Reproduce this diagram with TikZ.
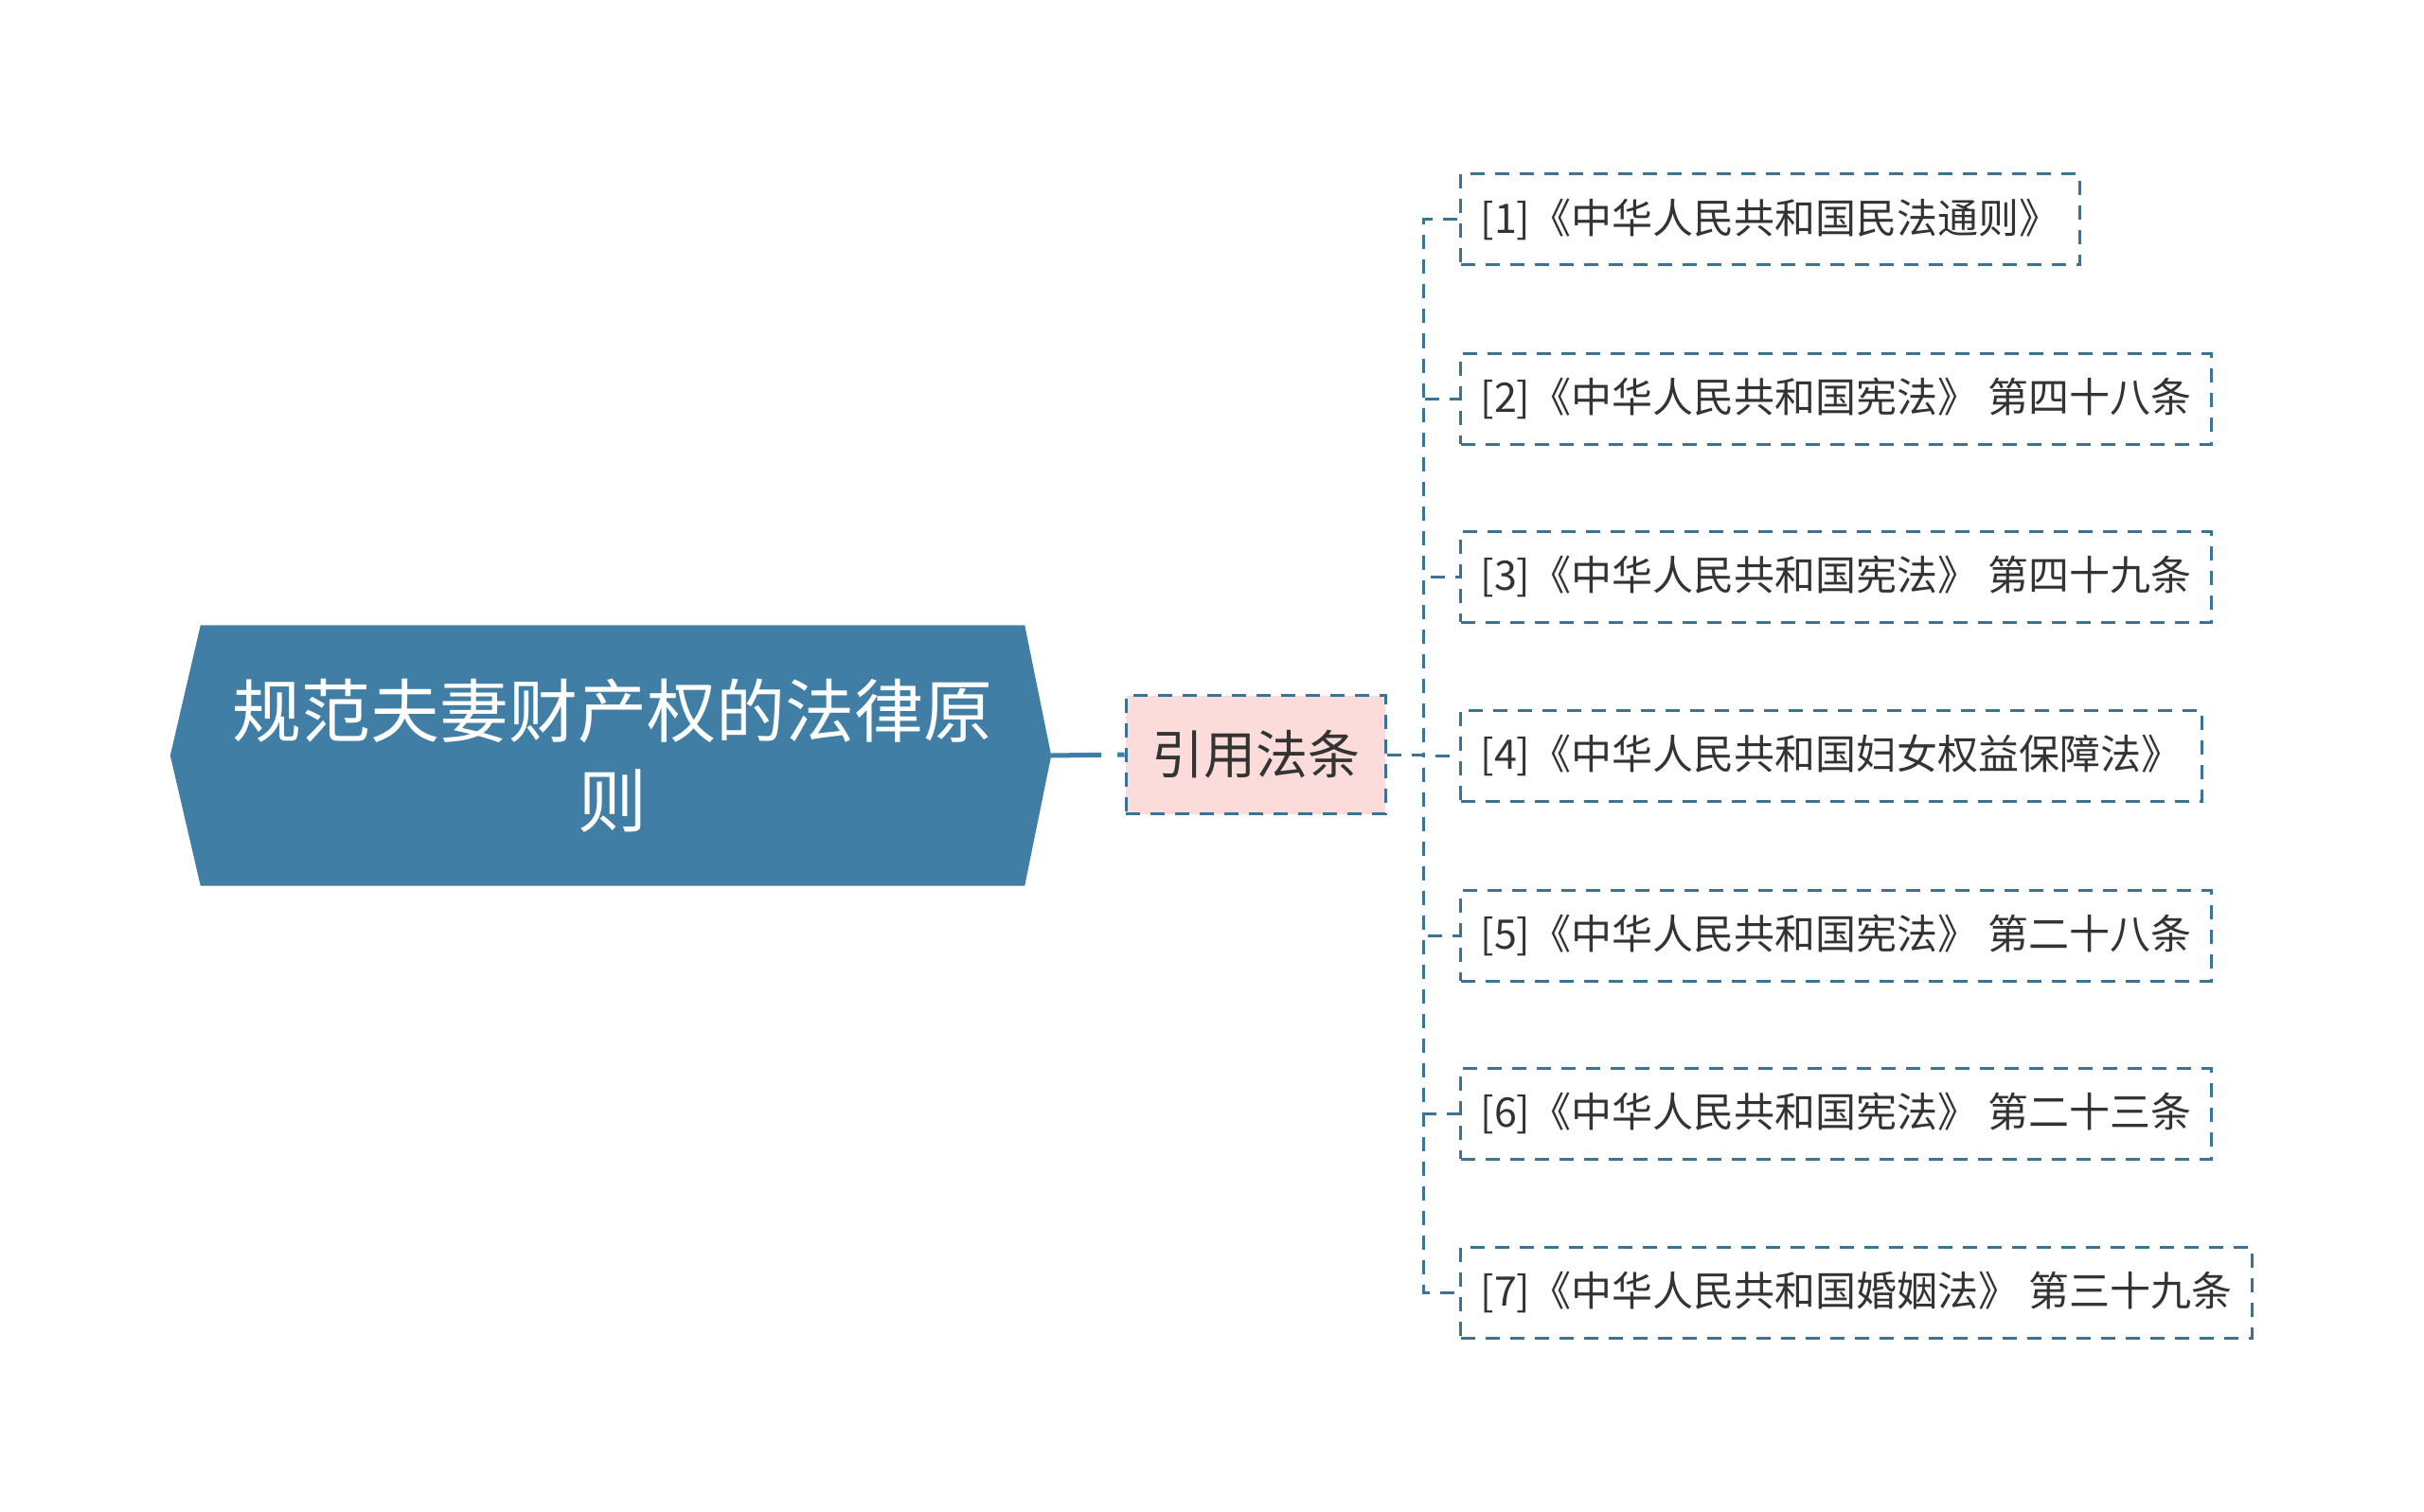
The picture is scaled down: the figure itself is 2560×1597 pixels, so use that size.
\documentclass[tikz,border=0pt]{standalone}
\usepackage{fontspec}
\setmainfont{Noto Sans CJK SC}
\usetikzlibrary{calc}
\pgfdeclarelayer{background}
\pgfsetlayers{background,main}
\definecolor{mainblue}{RGB}{64,126,165}
\definecolor{dashblue}{RGB}{58,115,150}
\definecolor{pinkfill}{RGB}{251,220,219}
\definecolor{txt}{RGB}{51,51,51}
\begin{document}
\begin{tikzpicture}[x=1pt,y=-1pt,
  rootnode/.style={inner sep=0pt, text=white, align=center,
    font=\fontsize{73}{95}\selectfont, minimum width=870pt, minimum height=275pt},
  midnode/.style={draw=dashblue, fill=pinkfill, line width=3pt, dash pattern=on 15pt off 11pt,
    text=txt, font=\fontsize{55}{60}\selectfont, minimum width=274pt, minimum height=125pt},
  leafbox/.style={draw=dashblue, line width=3pt, dash pattern=on 15pt off 11pt,
    text=txt, font=\fontsize{43}{50}\selectfont, minimum height=96pt,
    inner xsep=21pt, anchor=west},
  dashedge/.style={draw=dashblue, line width=3pt, dash pattern=on 15pt off 11pt}]
\useasboundingbox (0,0) rectangle (2560,1597);

\node[rootnode] (main) at (647,798) {规范夫妻财产权的法律原\\则};
\coordinate (mainTip) at ($(main.east)+(28,0)$);
\begin{pgfonlayer}{background}
\fill[mainblue] ($(main.west)+(-32,0)$) -- (main.north west) -- (main.north east)
  -- (mainTip) -- (main.south east) -- (main.south west) -- cycle;
\end{pgfonlayer}

\node[midnode] (yy) at (1326,797) {引用法条};

\draw[mainblue, line width=5pt, dash pattern=on 53pt off 17pt on 20pt] (mainTip) -- (yy.west);

\coordinate (sp) at (1503,797);

\node[leafbox] (c1) at (1541,232)  {[1]《中华人民共和国民法通则》};
\node[leafbox] (c2) at (1541,421)  {[2]《中华人民共和国宪法》 第四十八条};
\node[leafbox] (c3) at (1541,609)  {[3]《中华人民共和国宪法》 第四十九条};
\node[leafbox] (c4) at (1541,798)  {[4]《中华人民共和国妇女权益保障法》};
\node[leafbox] (c5) at (1541,988)  {[5]《中华人民共和国宪法》 第二十八条};
\node[leafbox] (c6) at (1541,1176) {[6]《中华人民共和国宪法》 第二十三条};
\node[leafbox] (c7) at (1541,1365) {[7]《中华人民共和国婚姻法》 第三十九条};

\foreach \c in {c1,c2,c3,c4,c5,c6,c7}{
  \draw[dashedge] (yy.east) -- (sp) |- (\c.west);
}
\end{tikzpicture}
\end{document}
